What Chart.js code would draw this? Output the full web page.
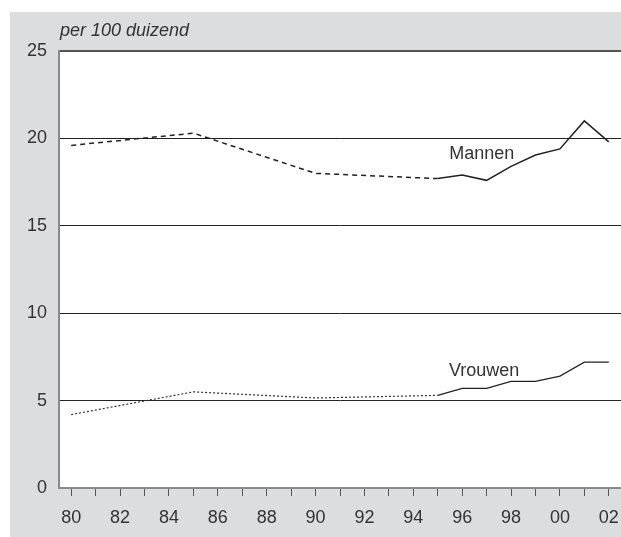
<!DOCTYPE html>
<html><head><meta charset="utf-8">
<script src="https://cdn.jsdelivr.net/npm/chart.js@4.4.1/dist/chart.umd.min.js"></script>
<style>html,body{margin:0;padding:0;background:#fff;}canvas{display:block;}</style>
</head><body>
<canvas id="c" width="621" height="537"></canvas>
<script>
const yearTicks = [80,81,82,83,84,85,86,87,88,89,90,91,92,93,94,95,96,97,98,99,100,101,102];
const yTicks = [0,5,10,15,20,25];
const mannenDashYears = [80,85,90,95];
const mannenDashValues = [19.6,20.3,18.0,17.7];
const mannenSolidYears = [95,96,97,98,99,100,101,102];
const mannenSolidValues = [17.7,17.9,17.6,18.4,19.05,19.4,21.0,19.8];
const vrouwenDotYears = [80,85,90,95];
const vrouwenDotValues = [4.2,5.5,5.15,5.3];
const vrouwenSolidYears = [95,96,97,98,99,100,101,102];
const vrouwenSolidValues = [5.3,5.7,5.7,6.1,6.1,6.4,7.2,7.2];
const unitLabel = 'per 100 duizend';
const seriesLabels = [{text:'Mannen', x:96.8, y:19.1},{text:'Vrouwen', x:96.9, y:6.72}];

const FONT = '"Liberation Sans", Arial, sans-serif';
const TXT = '#333';
const pts = (xs, ys) => xs.map((x,i)=>({x:x, y:ys[i]}));

const bgPlugin = {
  id:'bg',
  beforeDraw(chart){
    const {ctx, chartArea:a, width, height} = chart;
    ctx.save();
    ctx.fillStyle='#fff'; ctx.fillRect(0,0,width,height);
    ctx.fillStyle='#dcdddf'; ctx.fillRect(10,12,width-10,height-12);
    ctx.fillStyle='#fff'; ctx.fillRect(a.left,a.top,a.right-a.left,a.bottom-a.top);
    ctx.restore();
  },
  afterDraw(chart){
    const {ctx, chartArea:a, scales} = chart;
    ctx.save();
    ctx.fillStyle=TXT;
    ctx.font='italic 18px '+FONT;
    ctx.textAlign='left'; ctx.textBaseline='middle';
    ctx.fillText(unitLabel, a.left+1, 31);
    ctx.font='18px '+FONT;
    ctx.textAlign='center';
    seriesLabels.forEach(l=>{
      ctx.fillText(l.text, scales.x.getPixelForValue(l.x), scales.y.getPixelForValue(l.y));
    });
    ctx.restore();
  }
};

new Chart(document.getElementById('c'), {
  type:'line',
  data:{datasets:[
    {data:pts(mannenDashYears,mannenDashValues), borderColor:'#222', borderWidth:1.5, borderDash:[5,4], pointRadius:0, tension:0},
    {data:pts(mannenSolidYears,mannenSolidValues), borderColor:'#222', borderWidth:1.5, pointRadius:0, tension:0},
    {data:pts(vrouwenDotYears,vrouwenDotValues), borderColor:'#333', borderWidth:1.2, borderDash:[2,2], pointRadius:0, tension:0},
    {data:pts(vrouwenSolidYears,vrouwenSolidValues), borderColor:'#222', borderWidth:1.2, pointRadius:0, tension:0}
  ]},
  options:{
    responsive:false, animation:false, devicePixelRatio:1,
    layout:{padding:{top:51,left:0,right:0,bottom:0}},
    plugins:{legend:{display:false}, tooltip:{enabled:false}},
    scales:{
      x:{type:'linear', min:79.5, max:102.5,
        afterBuildTicks(s){ s.ticks = yearTicks.map(v=>({value:v})); },
        afterFit(s){ s.height = 49; s.paddingLeft = 0; s.paddingRight = 0; },
        grid:{drawOnChartArea:false, drawTicks:true, tickLength:8, color:'#555', tickWidth:1},
        border:{display:true, color:'#8a8a8a', width:2},
        ticks:{autoSkip:false, maxRotation:0, padding:11, color:TXT, font:{family:FONT, size:18},
          callback(v){ return (v%2===0) ? String(v%100).padStart(2,'0') : ''; }}
      },
      y:{type:'linear', min:0, max:25,
        afterBuildTicks(s){ s.ticks = yTicks.map(v=>({value:v})); },
        afterFit(s){ s.width = 59; s.paddingTop = 0; s.paddingBottom = 0; },
        grid:{drawTicks:false, color:(c)=> c.tick && c.tick.value===25 ? '#555' : '#222',
              lineWidth:(c)=> c.tick && c.tick.value===25 ? 2 : 1},
        border:{display:true, color:'#8a8a8a', width:2},
        ticks:{padding:12, color:TXT, font:{family:FONT, size:18}}
      }
    }
  },
  plugins:[bgPlugin]
});
</script>
</body></html>
